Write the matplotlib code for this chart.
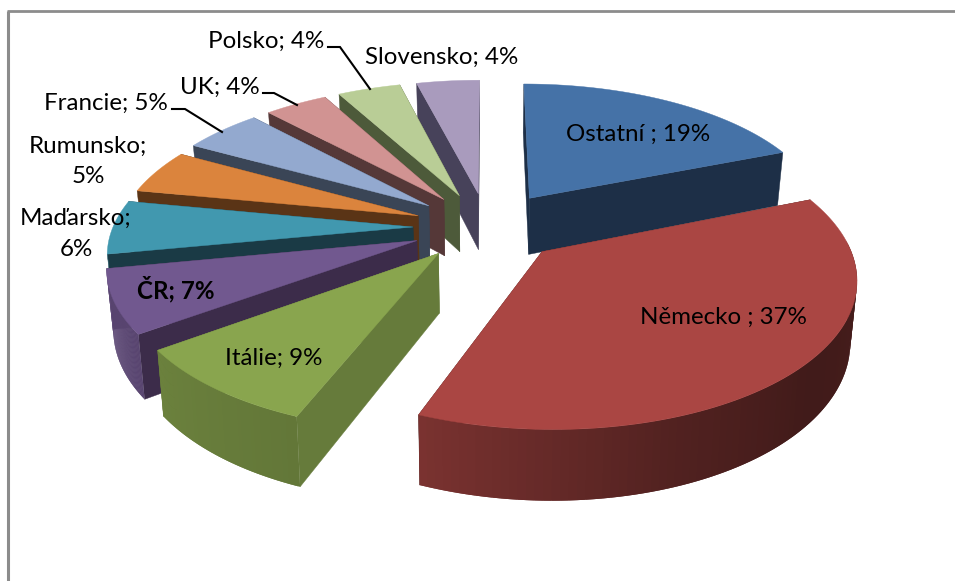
import numpy as np
import matplotlib
matplotlib.use("Agg")
import matplotlib.pyplot as plt
from matplotlib.patches import Polygon

names = ["Ostatní ", "Německo ", "Itálie", "ČR", "Maďarsko", "Rumunsko", "Francie", "UK", "Polsko", "Slovensko"]
values = [19, 37, 9, 7, 6, 5, 5, 4, 4, 4]
top_colors = ["#4572A7", "#AA4643", "#89A54E", "#71588F", "#4198AF", "#DB843D", "#93A9CF", "#D19392", "#B9CD96", "#A99BBD"]
cut_colors = ["#1D2F47", "#471C1A", "#667B3B", "#3C2C4A", "#1A3A45", "#5A3416", "#3A4556", "#553838", "#4D5A3A", "#47425A"]
explode = [0.26, 0.27, 0.24, 0.24, 0.24, 0.24, 0.24, 0.24, 0.24, 0.24]
nudge = [(4, 1.5), (0, -2), (1, 0), (1, 1), (2, 1), (2, 1), (1.5, 0), (2, 0), (2, 0), (4, 0)]
draw_order = [0, 9, 8, 7, 6, 5, 4, 3, 2, 1]

CX, CY, S, SA, P, DEPTH, K = 483.0, 226.0, 300.0, 140.5, 0.156, 58.0, 0.982
shade_t = [0, 90, 130, 160, 201, 233, 259, 360]
shade_v = [0.4, 0.42, 0.38, 0.48, 0.72, 0.78, 0.84, 0.84]


def project(X, Y, low=False):
    w = 1 + P * Y
    sx = CX + S * X / w
    sy = CY - SA * Y / w
    if low:
        sx = CX + (sx - CX) * K
        sy = sy + DEPTH / w
    return sx, sy


def scale_color(hexcol, f):
    r, g, b = matplotlib.colors.to_rgb(hexcol)
    return (r * f, g * f, b * f)


fig = plt.figure(figsize=(9.55, 5.81), dpi=100)
ax = fig.add_axes([0, 0, 1, 1])
ax.set_xlim(0, 955)
ax.set_ylim(581, 0)
ax.axis("off")

ax.plot([7.5, 7.5], [581, 11], color="#8C8C8C", lw=2.2, solid_capstyle="butt")
ax.plot([6.5, 955], [11, 11], color="#8C8C8C", lw=2.0, solid_capstyle="butt")

edges = np.concatenate([[0], np.cumsum(values)]) * 3.6
z = 1
for i in draw_order:
    t0, t1 = edges[i], edges[i + 1]
    mid = np.radians((t0 + t1) / 2)
    ox = explode[i] * np.sin(mid)
    oy = explode[i] * np.cos(mid)
    th = np.radians(np.linspace(t0, t1, 100))
    xs = ox + np.sin(th)
    ys = oy + np.cos(th)
    ndx, ndy = nudge[i]

    def pt(X, Y, low=False):
        a, b = project(X, Y, low)
        return (a + ndx, b + ndy)

    apex, apex_l = pt(ox, oy), pt(ox, oy, True)
    for a, b in [(xs[0], ys[0]), (xs[-1], ys[-1])]:
        ax.add_patch(Polygon([apex, pt(a, b), pt(a, b, True), apex_l], closed=True,
                             fc=cut_colors[i], ec=cut_colors[i], lw=0.3, zorder=z))
    z += 1
    for k in range(len(th) - 1):
        deg = np.degrees(th[k])
        if deg < 85 or deg > 259.5:
            continue
        e = min(k + 2, len(th) - 1)
        col = scale_color(top_colors[i], np.interp(deg, shade_t, shade_v))
        ax.add_patch(Polygon([pt(xs[k], ys[k]), pt(xs[e], ys[e]),
                              pt(xs[e], ys[e], True), pt(xs[k], ys[k], True)],
                             closed=True, fc=col, ec="none", lw=0, zorder=z))
        z += 0.001
    z += 1
    top = [apex] + [pt(a, b) for a, b in zip(xs, ys)]
    ax.add_patch(Polygon(top, closed=True, fc=top_colors[i], ec=top_colors[i], lw=0.3, zorder=z))
    z += 1

leaders = [[(328, 47), (340, 47), (370, 89)], [(263, 93), (274, 93), (297, 105)], [(172, 109), (185, 109), (222, 132)]]
for line in leaders:
    ax.plot(*zip(*line), color="black", lw=1.5, zorder=z, solid_joinstyle="miter")

label_pos = [(638.5, 134.5), (723.5, 317.5), (274, 358.5), (176, 289.5), (76, 234), (88, 161.5), (106, 103.5), (220, 87.5), (266, 41.5), (442, 57.5)]
for i, (n, v) in enumerate(zip(names, values)):
    if n in ("Maďarsko", "Rumunsko"):
        s = f"{n};\n{v}%"
    else:
        s = f"{n}; {v}%"
    ax.text(*label_pos[i], s, family="Lato", fontsize=17.4, ha="center", va="center", color="black",
            fontweight="bold" if n == "ČR" else "normal", zorder=z + 1, linespacing=1.55)

fig.savefig("out.png", dpi=100)
